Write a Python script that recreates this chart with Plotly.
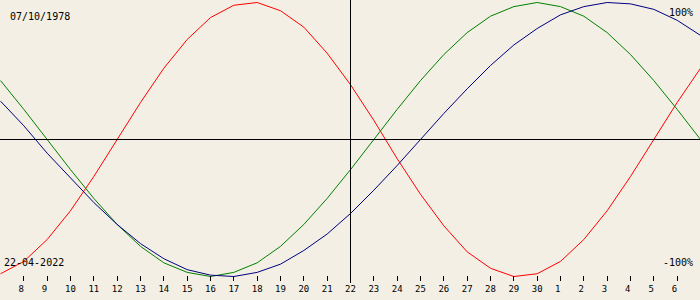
import plotly.graph_objects as go

# day offsets relative to target date (22-04-2022)
days = list(range(-15, 16))
tick_days = list(range(-14, 15))
tick_labels = ["8", "9", "10", "11", "12", "13", "14", "15", "16", "17", "18", "19", "20", "21",
               "22", "23", "24", "25", "26", "27", "28", "29", "30",
               "1", "2", "3", "4", "5", "6"]

physical = [-0.98, -0.89, -0.73, -0.52, -0.27, 0.00, 0.27, 0.52, 0.73, 0.89, 0.98, 1.00, 0.94,
            0.82, 0.63, 0.40, 0.14, -0.14, -0.40, -0.63, -0.82, -0.94, -1.00, -0.98, -0.89,
            -0.73, -0.52, -0.27, 0.00, 0.27, 0.52]
emotional = [0.43, 0.22, 0.00, -0.22, -0.43, -0.62, -0.78, -0.90, -0.97, -1.00, -0.97, -0.90,
             -0.78, -0.62, -0.43, -0.22, 0.00, 0.22, 0.43, 0.62, 0.78, 0.90, 0.97, 1.00, 0.97,
             0.90, 0.78, 0.62, 0.43, 0.22, 0.00]
intellectual = [0.28, 0.10, -0.10, -0.28, -0.46, -0.62, -0.76, -0.87, -0.95, -0.99, -1.00, -0.97,
                -0.91, -0.81, -0.69, -0.54, -0.37, -0.19, 0.00, 0.19, 0.37, 0.54, 0.69, 0.81,
                0.91, 0.97, 1.00, 0.99, 0.95, 0.87, 0.76]

birth_text = "07/10/1978"
date_text = "22-04-2022"

BG = "#F3EFE4"
W, H = 700, 300
DAYPX = 700 / 30.0
XSHIFT = 0.5 / DAYPX  # put the centre line on a pixel centre for a crisp 1px line

fig = go.Figure()
for vals, col in [(physical, "#FF0000"), (emotional, "#008000"), (intellectual, "#000080")]:
    fig.add_trace(go.Scatter(x=days, y=vals, mode="lines",
                             line=dict(color=col, width=1), hoverinfo="skip"))

fig.update_layout(
    width=W, height=H,
    margin=dict(l=0, r=0, t=0, b=0),
    paper_bgcolor=BG, plot_bgcolor=BG,
    showlegend=False,
    xaxis=dict(range=[-15 - XSHIFT, 15 - XSHIFT], showgrid=False, zeroline=False, showline=False,
               anchor="free", position=25 / H,
               tickmode="array", tickvals=tick_days,
               ticktext=[t if len(t) > 1 else t + "\u00a0" for t in tick_labels],
               ticks="outside", ticklen=5, tickwidth=1, tickcolor="black",
               tickfont=dict(family="DejaVu Sans Mono", size=9, color="black")),
    yaxis=dict(range=[-160.5 / 137, 139.5 / 137], showgrid=False, zeroline=False,
               showline=False, showticklabels=False, ticks=""),
    shapes=[
        dict(type="line", xref="paper", yref="y", x0=0, x1=1, y0=0, y1=0,
             line=dict(color="black", width=1)),
        dict(type="line", xref="x", yref="paper", x0=0, x1=0, y0=(H - 283) / H, y1=1,
             line=dict(color="black", width=1)),
    ],
)

font = dict(family="DejaVu Sans Mono", size=10, color="black")
fig.add_annotation(text=birth_text, xref="paper", yref="paper", x=8 / W, y=1 - 16.5 / H,
                   xanchor="left", yanchor="middle", showarrow=False, font=font)
fig.add_annotation(text=date_text, xref="paper", yref="paper", x=2 / W, y=1 - 262 / H,
                   xanchor="left", yanchor="middle", showarrow=False, font=font)
fig.add_annotation(text="100%", xref="paper", yref="paper", x=695 / W, y=1 - 12 / H,
                   xanchor="right", yanchor="middle", showarrow=False, font=font)
fig.add_annotation(text="-100%", xref="paper", yref="paper", x=695 / W, y=1 - 262 / H,
                   xanchor="right", yanchor="middle", showarrow=False, font=font)

fig.write_html("out.html")
